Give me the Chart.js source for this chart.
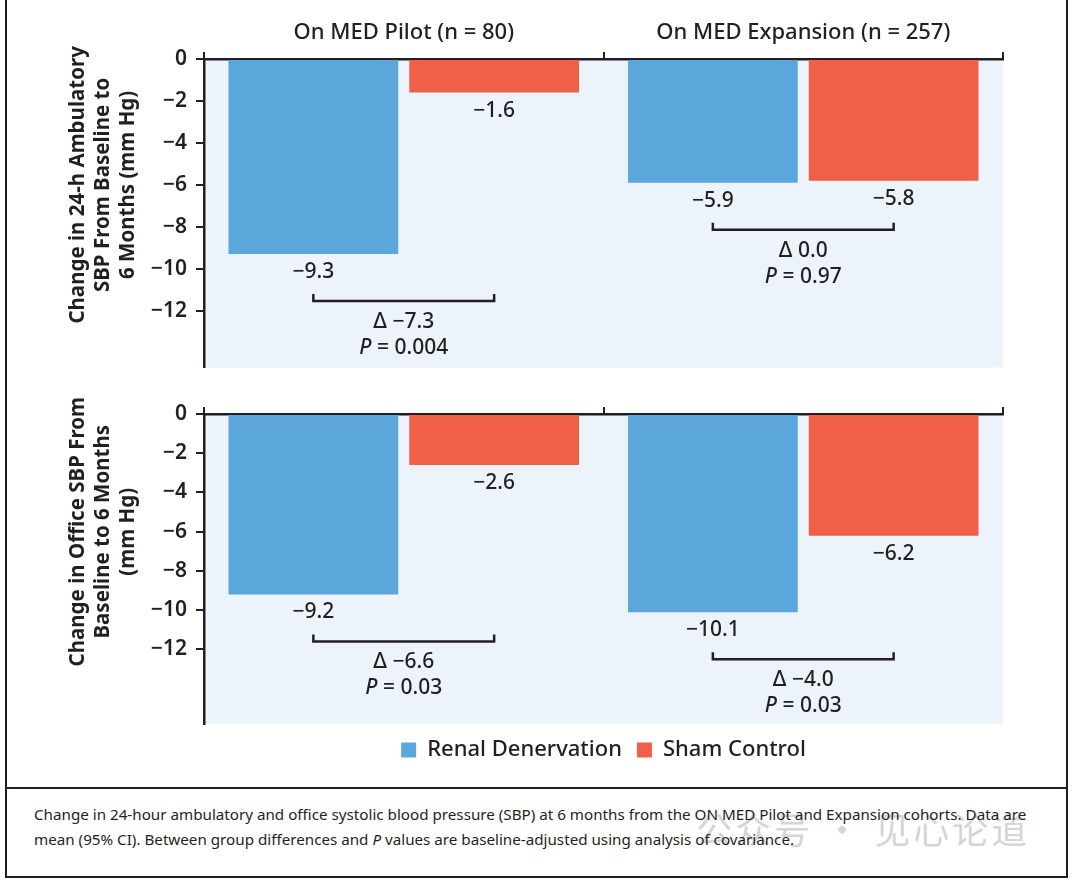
<!DOCTYPE html>
<html>
<head>
<meta charset="utf-8">
<script src="https://cdn.jsdelivr.net/npm/chart.js@4.4.1/dist/chart.umd.min.js"></script>
<style>
  body { margin: 0; background: #fff; width: 1072px; height: 883px; position: relative; overflow: hidden; font-family: "Noto Sans", sans-serif; color: #231f20; }
  .box { position: absolute; border: 2px solid #231f20; box-sizing: border-box; }
  canvas { position: absolute; left: 0; }
  #caption { position: absolute; left: 34px; top: 802px; font-family: "Noto Sans", sans-serif; font-size: 15.2px; line-height: 25px; white-space: nowrap; z-index: 2; }
  #mark { position: absolute; left: 696px; top: 802px; font-family: "Noto Sans CJK SC", sans-serif; font-size: 36px; color: rgba(160,160,160,0.45); letter-spacing: 3px; z-index: 1; }
</style>
</head>
<body>
<div class="box" style="left:5px; top:-2px; width:1063px; height:791px;"></div>
<div class="box" style="left:5px; top:787px; width:1063px; height:91px;"></div>
<canvas id="chartAmbulatory" width="1072" height="389" style="top:0"></canvas>
<canvas id="chartOffice" width="1072" height="400" style="top:383px"></canvas>
<div id="mark">公众号 · 见心论道</div>
<div id="caption">Change in 24-hour ambulatory and office systolic blood pressure (SBP) at 6 months from the ON MED Pilot and Expansion cohorts. Data are<br>mean (95% CI). Between group differences and <i>P</i> values are baseline-adjusted using analysis of covariance.</div>
<script>
// ===== DATA =====
const groups = ['On MED Pilot (n = 80)', 'On MED Expansion (n = 257)'];
const seriesNames = ['Renal Denervation', 'Sham Control'];
const ambulatoryRDN = [-9.3, -5.9];
const ambulatorySham = [-1.6, -5.8];
const ambulatoryDelta = [-7.3, 0.0];
const ambulatoryP = ['0.004', '0.97'];
const officeRDN = [-9.2, -10.1];
const officeSham = [-2.6, -6.2];
const officeDelta = [-6.6, -4.0];
const officeP = ['0.03', '0.03'];
const yTicks = [-12, -10, -8, -6, -4, -2, 0];
const ambulatoryTitle = ['Change in 24-h Ambulatory', 'SBP From Baseline to', '6 Months (mm Hg)'];
const officeTitle = ['Change in Office SBP From', 'Baseline to 6 Months', '(mm Hg)'];

const INK = '#231f20';
const BLUE = '#5ba6da';
const RED = '#f05f48';
const FONT = '"Noto Sans", sans-serif';

function fmt(v) {
  return (v < 0 ? '\u2212' : '') + Math.abs(v).toFixed(1);
}

// ===== PLUGINS =====
const panelBg = {
  id: 'panelBg',
  beforeDraw(chart) {
    const a = chart.chartArea, ctx = chart.ctx;
    ctx.save();
    ctx.fillStyle = '#ecf3fb';
    ctx.fillRect(a.left, a.top, a.right - a.left, a.bottom - a.top);
    ctx.restore();
  }
};

const annotations = {
  id: 'annotations',
  afterDatasetsDraw(chart, args, opts) {
    const ctx = chart.ctx;
    const m0 = chart.getDatasetMeta(0), m1 = chart.getDatasetMeta(1);
    const reg = '500 21px ' + FONT, ital = 'italic 500 21px ' + FONT;
    ctx.save();
    ctx.fillStyle = INK;
    ctx.strokeStyle = INK;
    ctx.textBaseline = 'middle';
    groups.forEach((g, i) => {
      const b0 = m0.data[i], b1 = m1.data[i];
      ctx.font = reg;
      ctx.textAlign = 'center';
      ctx.fillText(fmt(chart.data.datasets[0].data[i]), b0.x, b0.y + 18);
      ctx.fillText(fmt(chart.data.datasets[1].data[i]), b1.x, b1.y + 18);

      // bracket between the two bars
      const yB = Math.max(b0.y, b1.y) + 47;
      ctx.lineWidth = 2.5;
      ctx.beginPath();
      ctx.moveTo(b0.x, yB - 7);
      ctx.lineTo(b0.x, yB);
      ctx.lineTo(b1.x, yB);
      ctx.lineTo(b1.x, yB - 7);
      ctx.stroke();

      const cx = (b0.x + b1.x) / 2;
      ctx.fillText('\u0394 ' + fmt(opts.delta[i]), cx, yB + 21);

      // P line with italic P
      ctx.font = ital;
      const wP = ctx.measureText('P').width;
      ctx.font = reg;
      const rest = ' = ' + opts.p[i];
      const wR = ctx.measureText(rest).width;
      const x0 = cx - (wP + wR) / 2;
      ctx.textAlign = 'left';
      ctx.font = ital;
      ctx.fillText('P', x0, yB + 47);
      ctx.font = reg;
      ctx.fillText(rest, x0 + wP, yB + 47);
    });
    ctx.restore();
  }
};

const yTitle = {
  id: 'yTitle',
  afterDraw(chart, args, opts) {
    const ctx = chart.ctx;
    const cy = chart.scales.y.getPixelForValue(-6);
    ctx.save();
    ctx.translate(103, cy);
    ctx.rotate(-Math.PI / 2);
    ctx.fillStyle = INK;
    ctx.font = 'bold 20.5px ' + FONT;
    ctx.textAlign = 'center';
    ctx.textBaseline = 'middle';
    opts.lines.forEach((t, k) => ctx.fillText(t, 0, (k - 1) * 25));
    ctx.restore();
  }
};

// ===== CHARTS =====
function makeChart(id, rdn, sham, yMin, cfg) {
  return new Chart(document.getElementById(id), {
    type: 'bar',
    data: {
      labels: groups,
      datasets: [
        { label: seriesNames[0], data: rdn, backgroundColor: BLUE, categoryPercentage: 0.905, barPercentage: 0.939 },
        { label: seriesNames[1], data: sham, backgroundColor: RED, categoryPercentage: 0.905, barPercentage: 0.939 },
      ]
    },
    plugins: [panelBg, annotations, yTitle],
    options: {
      responsive: false, animation: false, devicePixelRatio: 1,
      layout: { padding: { left: 0, right: 69, top: 0, bottom: cfg.padBottom } },
      plugins: {
        legend: cfg.legend,
        tooltip: { enabled: false },
        annotations: { delta: cfg.delta, p: cfg.p },
        yTitle: { lines: cfg.title }
      },
      scales: {
        x: {
          position: 'top',
          afterFit: s => { s.height = cfg.xHeight; },
          grid: { offset: true, drawOnChartArea: false, drawTicks: true, tickLength: 7, color: INK, lineWidth: 2 },
          border: { display: true, color: INK, width: 2.5 },
          ticks: { display: cfg.showGroups, padding: 6, color: INK, font: { family: FONT, size: 22, weight: '500' } }
        },
        y: {
          min: yMin, max: 0,
          afterFit: s => { s.width = 204; },
          afterBuildTicks: s => { s.ticks = yTicks.map(v => ({ value: v })); },
          grid: { drawOnChartArea: false, drawTicks: true, tickLength: 8, color: INK, lineWidth: 2 },
          border: { display: true, color: INK, width: 2.5 },
          ticks: {
            padding: 9, color: INK, font: { family: FONT, size: 21, weight: '600' },
            callback: v => (v === 0 ? '0' : '\u2212' + Math.abs(v))
          }
        }
      }
    }
  });
}

makeChart('chartAmbulatory', ambulatoryRDN, ambulatorySham, -14.7, {
  padBottom: 0, xHeight: 59, showGroups: true, legend: { display: false },
  delta: ambulatoryDelta, p: ambulatoryP, title: ambulatoryTitle
});

makeChart('chartOffice', officeRDN, officeSham, -15.8, {
  padBottom: 12, xHeight: 31, showGroups: false,
  legend: {
    position: 'bottom', fullSize: false,
    labels: { boxWidth: 15, boxHeight: 15, padding: 15, color: INK, font: { family: FONT, size: 22, weight: '500' } }
  },
  delta: officeDelta, p: officeP, title: officeTitle
});
</script>
</body>
</html>
